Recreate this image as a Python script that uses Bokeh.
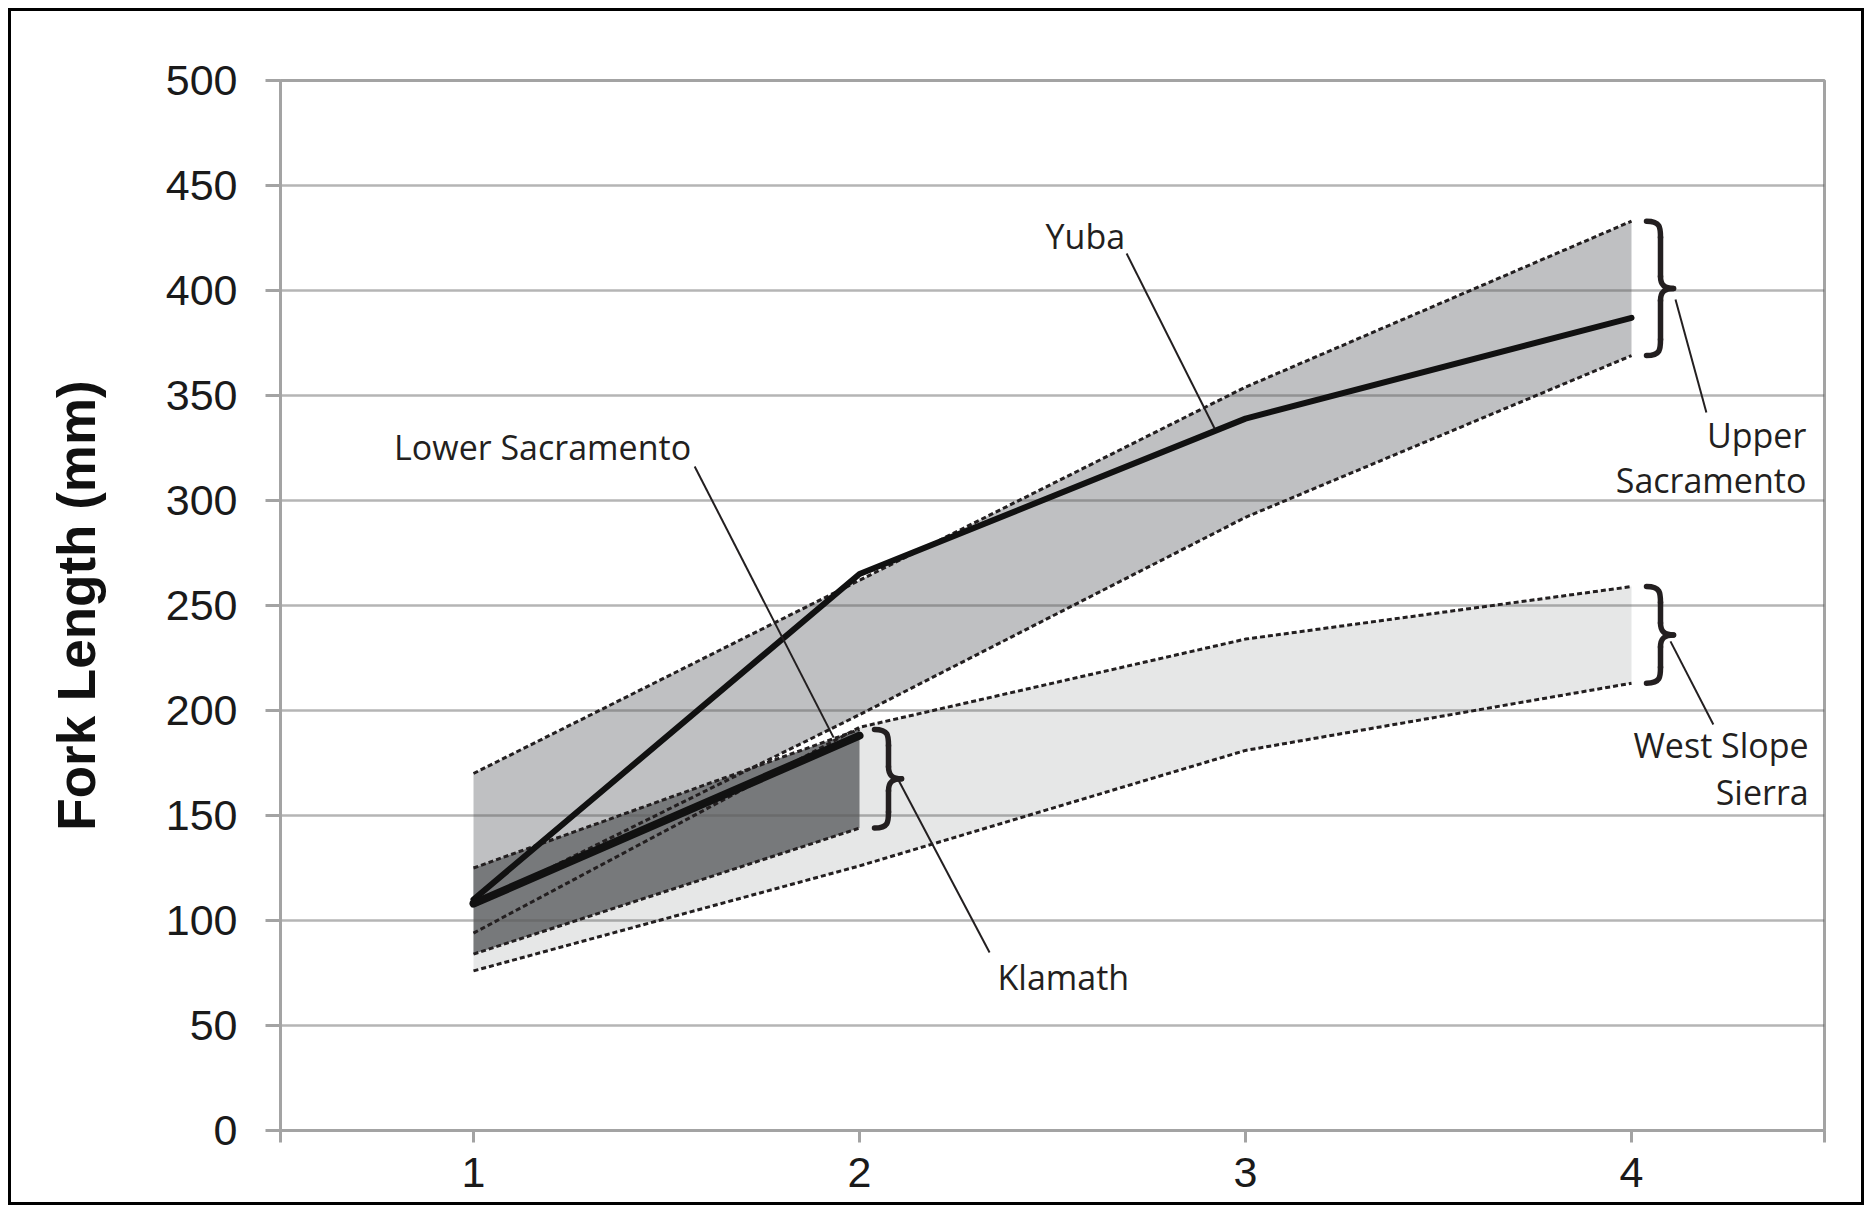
from bokeh.plotting import figure
from bokeh.models import FixedTicker, Range1d
from bokeh.core.properties import value
from bokeh.embed import file_html
from bokeh.resources import INLINE

# ---------------- data ----------------
ages = [1, 2, 3, 4]
upper_sac_hi = [170, 262, 354, 433]
upper_sac_lo = [107, 198, 292, 369]
west_slope_hi = [94, 192, 234, 259]
west_slope_lo = [76, 126, 181, 213]
klamath_ages = [1, 2]
klamath_hi = [125, 191]
klamath_lo = [84, 144]
yuba = [110, 265, 339, 387]
lower_sac_ages = [1, 2]
lower_sac = [108, 188]

y_ticks = [0, 50, 100, 150, 200, 250, 300, 350, 400, 450, 500]
x_ticks = [1, 2, 3, 4]
x_tick_labels = ["1", "2", "3", "4"]

# ---------------- layout ----------------
W, H = 1856, 1197
ML, MT, MR, MB = 269, 69, 43, 78
FRAME_W = W - ML - MR
FRAME_H = H - MT - MB
X0, X1 = 0.5, 4.5
Y0, Y1 = 0, 500
SX = (X1 - X0) / FRAME_W   # data units per px
SY = (Y1 - Y0) / FRAME_H

INK = "#231f20"
AX = "#a3a3a3"

p = figure(width=W, height=H, output_backend="svg", toolbar_location=None,
           x_range=Range1d(X0, X1), y_range=Range1d(Y0, Y1),
           min_border_left=ML, min_border_top=MT, min_border_right=MR,
           min_border_bottom=MB)
p.styles = {"border": "3px solid black", "margin": "8px 0 0 8px"}
p.background_fill_color = "white"
p.border_fill_color = "white"
p.outline_line_color = AX
p.outline_line_width = 3

# axes
p.yaxis.ticker = FixedTicker(ticks=y_ticks)
edge_ticks = [X0] + x_ticks + [X1]
p.xaxis.ticker = FixedTicker(ticks=edge_ticks)
overrides = {X0: "", X1: ""}
for t, lab in zip(x_ticks, x_tick_labels):
    overrides[t] = lab
p.xaxis.major_label_overrides = overrides

for ax in (p.xaxis[0], p.yaxis[0]):
    ax.axis_line_color = AX
    ax.axis_line_width = 3
    ax.major_tick_line_color = AX
    ax.major_tick_line_width = 3
    ax.major_tick_in = 0
    ax.minor_tick_line_color = None
    ax.major_label_text_font = "Liberation Sans"
    ax.major_label_text_font_size = "43px"
    ax.major_label_text_color = "#1a1a1a"

p.yaxis.major_tick_out = 15
p.yaxis.major_label_standoff = 28
p.xaxis.major_tick_out = 12
p.xaxis.major_label_standoff = 15

p.yaxis.axis_label = "Fork Length (mm)"
p.yaxis.axis_label_text_font = "Liberation Sans"
p.yaxis.axis_label_text_font_style = "bold"
p.yaxis.axis_label_text_font_size = "53px"
p.yaxis.axis_label_text_color = "#111111"
p.yaxis.axis_label_standoff = 57

p.xgrid.grid_line_color = None
p.ygrid.grid_line_color = "#5a5a5a"
p.ygrid.grid_line_alpha = 0.45
p.ygrid.grid_line_width = 2.5

# ---------------- bands ----------------
p.varea(x=ages, y1=west_slope_lo, y2=west_slope_hi, fill_color="#e6e7e7", level="image")
p.varea(x=ages, y1=upper_sac_lo, y2=upper_sac_hi, fill_color="#bfc0c2", level="image")
p.varea(x=klamath_ages, y1=klamath_lo, y2=klamath_hi, fill_color="#77797b", level="image")

dot = dict(line_color=INK, line_width=3, line_dash="5 3")
for xs, ys in [(ages, upper_sac_hi), (ages, upper_sac_lo),
               (ages, west_slope_hi), (ages, west_slope_lo),
               (klamath_ages, klamath_hi), (klamath_ages, klamath_lo)]:
    p.line(xs, ys, **dot)

# ---------------- mean lines ----------------
p.line(ages, yuba, line_color="#111111", line_width=6, line_join="round", line_cap="round")
p.line(lower_sac_ages, lower_sac, line_color="#111111", line_width=8, line_cap="round")

# ---------------- braces ----------------
def brace(x0, ylo, yhi):
    xm = x0 + 14 * SX
    xt = x0 + 27 * SX
    ym = (ylo + yhi) / 2
    r = 16 * SY
    rm = 12 * SY
    bez = [
        (x0, yhi, xm, yhi - r, xm, yhi, xm, yhi - 0.4 * r),
        (xm, ym + rm, xt, ym, xm, ym + 0.3 * rm, xm + 0.3 * (xt - xm), ym),
        (xt, ym, xm, ym - rm, xm + 0.3 * (xt - xm), ym, xm, ym - 0.3 * rm),
        (xm, ylo + r, x0, ylo, xm, ylo + 0.4 * r, xm, ylo),
    ]
    seg = [(xm, yhi - r, xm, ym + rm), (xm, ym - rm, xm, ylo + r)]
    return bez, seg

bez_all, seg_all = [], []
brace_specs = [
    (ages[-1] + 15 * SX, upper_sac_lo[-1], upper_sac_hi[-1]),
    (ages[-1] + 15 * SX, west_slope_lo[-1], west_slope_hi[-1]),
    (klamath_ages[-1] + 15 * SX, klamath_lo[-1], klamath_hi[-1]),
]
for spec in brace_specs:
    b, s = brace(*spec)
    bez_all += b
    seg_all += s

cols = list(zip(*bez_all))
p.bezier(x0=list(cols[0]), y0=list(cols[1]), x1=list(cols[2]), y1=list(cols[3]),
         cx0=list(cols[4]), cy0=list(cols[5]), cx1=list(cols[6]), cy1=list(cols[7]),
         line_color=INK, line_width=5.5, line_cap="round")
scol = list(zip(*seg_all))
p.segment(x0=list(scol[0]), y0=list(scol[1]), x1=list(scol[2]), y1=list(scol[3]),
          line_color=INK, line_width=5.5, line_cap="round")

# ---------------- leader lines & labels ----------------
leader_x0 = [2.692, 1.573, 2.096, 4.114, 4.101]
leader_y0 = [417.6, 316.2, 168.6, 395.7, 232.9]
leader_x1 = [2.920, 1.933, 2.337, 4.194, 4.212]
leader_y1 = [334.3, 187.1, 84.8, 341.9, 193.3]
p.segment(x0=leader_x0, y0=leader_y0, x1=leader_x1, y1=leader_y1,
          line_color=INK, line_width=2)

txt = dict(text_font=value("Open Sans"), text_font_size="34px", text_color=INK,
           text_baseline="middle")
p.text(x=[2.585, 1.179, 2.528], y=[426, 325.7, 73.3],
       text=["Yuba", "Lower Sacramento", "Klamath"], text_align="center", **txt)
p.text(x=[4.453, 4.453, 4.459, 4.459], y=[331.4, 310.0, 183.8, 161.4],
       text=["Upper", "Sacramento", "West Slope", "Sierra"], text_align="right", **txt)

open("out.html", "w").write(file_html(p, INLINE))
